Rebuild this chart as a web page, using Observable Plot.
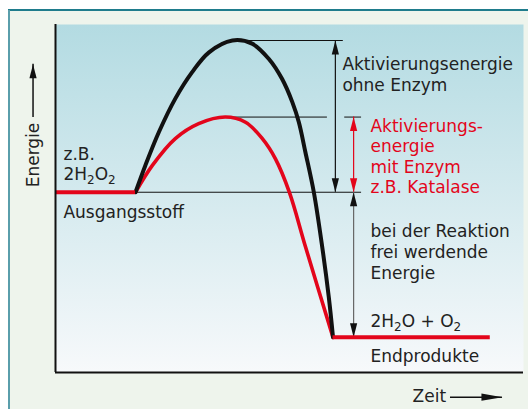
<!DOCTYPE html>
<html>
<head>
<meta charset="utf-8">
<script src="https://cdn.jsdelivr.net/npm/d3@7"></script>
<script src="https://cdn.jsdelivr.net/npm/@observablehq/plot@0.6"></script>
<style>
  html, body { margin: 0; padding: 0; background: #ffffff; }
  #chart { width: 528px; height: 409px; position: relative; }
  #chart svg { display: block; }
</style>
</head>
<body>
<div id="chart"></div>
<script>
// ---- data (time 0..100, energy 0..100) ----
const blackTime   = [17.1, 19.2, 22.1, 25.6, 29.2, 32.8, 37.8, 42.0, 45.6, 48.4, 50.6, 52.0, 53.4, 55.2, 57.0, 58.4, 59.3];
const blackEnergy = [51.8, 59.5, 69.1, 78.7, 86.3, 92.0, 95.4, 94.5, 90.1, 84.4, 77.7, 71.9, 63.3, 51.8, 36.0, 21.6, 10.1];
const redTime     = [17.1, 20.7, 25.6, 30.6, 36.3, 40.6, 44.2, 47.0, 50.0, 53.4, 59.3];
const redEnergy   = [51.8, 59.5, 67.2, 71.5, 73.4, 71.9, 67.2, 61.4, 51.7, 36.2, 10.1];

const energyStart = 51.8;
const energyPeakNoEnzyme = 95.4;
const energyPeakEnzyme = 73.4;
const energyEnd = 10.1;
const timeReactionStart = 17.1;
const timeReactionEnd = 59.3;
const timeLast = 92.9;

// guide lines
const guideEnergy = [energyPeakNoEnzyme, energyPeakEnzyme, energyPeakEnzyme, energyStart];
const guideFrom   = [37.8, 36.8, 61.8, 17.1];
const guideTo     = [61.5, 58.1, 65.4, 65.4];

// dimension arrows
const arrowTime   = [59.8, 63.7, 63.7];
const arrowTop    = [energyPeakNoEnzyme, energyPeakEnzyme, energyStart];
const arrowBottom = [energyStart, energyStart, energyEnd];
const arrowLine   = ["#111111", "#e3051b", "#666666"];
const arrowHead   = ["#111111", "#e3051b", "#111111"];

// labels
const labelText = [
  "Aktivierungsenergie\nohne Enzym",
  "Aktivierungs-\nenergie\nmit Enzym\nz.B. Katalase",
  "bei der Reaktion\nfrei werdende\nEnergie",
  "2H₂O + O₂",
  "Endprodukte",
  "z.B.\n2H₂O₂",
  "Ausgangsstoff",
  "Zeit"
];
const labelTime   = [61.3, 67.3, 67.3, 67.3, 67.3, 1.7, 1.7, 76.3];
const labelEnergy = [80.8, 51.6, 26.9, 13.0, 3.0, 55.2, 44.5, -8.5];
const labelColor  = ["#222", "#e3051b", "#222", "#222", "#222", "#222", "#222", "#222"];
const labelLineHeight = [1.26, 1.2, 1.24, 1.2, 1.2, 1.2, 1.2, 1.2];

const axisLabelEnergy = "Energie";

// ---- build tables ----
const RED = "#e3051b";
const blackPts = blackTime.map((t, i) => ({t, e: blackEnergy[i]}));
const redPts = redTime.map((t, i) => ({t, e: redEnergy[i]}));
const guides = guideEnergy.map((e, i) => ({e, x1: guideFrom[i], x2: guideTo[i]}));
const arrows = arrowTime.map((t, i) => ({t, top: arrowTop[i], bottom: arrowBottom[i], line: arrowLine[i], head: arrowHead[i]}));
const labels = labelText.map((s, i) => ({s, t: labelTime[i], e: labelEnergy[i], c: labelColor[i], lh: labelLineHeight[i]}));

// custom arrowhead symbols (tip at the point)
const headUp = {draw(ctx) { ctx.moveTo(0, 0); ctx.lineTo(3.6, 14); ctx.lineTo(-3.6, 14); ctx.closePath(); }};
const headDown = {draw(ctx) { ctx.moveTo(0, 0); ctx.lineTo(3.6, -14); ctx.lineTo(-3.6, -14); ctx.closePath(); }};
const headRight = {draw(ctx) { ctx.moveTo(0, 0); ctx.lineTo(-21, 3.6); ctx.lineTo(-21, -3.6); ctx.closePath(); }};

const FONT = "DejaVu Sans";

const textMarks = labels.map(d => Plot.text([d], {
  x: "t", y: "e", text: "s", fill: d.c, textAnchor: "start", lineAnchor: "bottom",
  fontSize: 17, fontFamily: FONT, lineHeight: d.lh
}));

// axis-title arrows (outside the frame)
const energyArrow = [{t: -4.8, e0: 73.3, e1: 88.6}];
const timeArrow = [{e: -7.1, t0: 84.4, t1: 95.5}];

const chart = Plot.plot({
  width: 528,
  height: 409,
  marginLeft: 55,
  marginRight: 5,
  marginTop: 24,
  marginBottom: 37,
  x: {domain: [0, 100], axis: null},
  y: {domain: [0, 100], axis: null},
  style: {background: "transparent", overflow: "visible", fontFamily: FONT},
  marks: [
    Plot.frame({fill: "url(#plotBg)", stroke: "none"}),
    // guide lines
    Plot.ruleY(guides, {y: "e", x1: "x1", x2: "x2", stroke: "#111", strokeWidth: 1}),
    // dimension arrows
    Plot.ruleX(arrows, {x: "t", y1: "top", y2: "bottom", stroke: "line", strokeWidth: 1.2}),
    Plot.dot(arrows, {x: "t", y: "top", symbol: headUp, fill: "head", stroke: "none"}),
    Plot.dot(arrows, {x: "t", y: "bottom", symbol: headDown, fill: "head", stroke: "none"}),
    // curves
    Plot.line(redPts, {x: "t", y: "e", stroke: RED, strokeWidth: 3.6, curve: "catmull-rom"}),
    Plot.line(blackPts, {x: "t", y: "e", stroke: "#111", strokeWidth: 4, curve: "catmull-rom"}),
    Plot.ruleY([energyStart], {x1: 0, x2: timeReactionStart, stroke: RED, strokeWidth: 4}),
    Plot.ruleY([energyEnd], {x1: timeReactionEnd, x2: timeLast, stroke: RED, strokeWidth: 4}),
    // axes
    Plot.ruleX([0], {stroke: "#111", strokeWidth: 2}),
    Plot.ruleY([0], {stroke: "#111", strokeWidth: 2}),
    // labels
    ...textMarks,
    Plot.text([axisLabelEnergy], {x: -4.6, y: 62.5, text: d => d, rotate: -90, textAnchor: "middle", lineAnchor: "middle", fontSize: 17, fontFamily: FONT, fill: "#222"}),
    Plot.ruleX(energyArrow, {x: "t", y1: "e0", y2: "e1", stroke: "#111", strokeWidth: 1.5}),
    Plot.dot(energyArrow, {x: "t", y: "e1", symbol: headUp, fill: "#111", stroke: "none"}),
    Plot.ruleY(timeArrow, {y: "e", x1: "t0", x2: "t1", stroke: "#111", strokeWidth: 1.5}),
    Plot.dot(timeArrow, {x: "t1", y: "e", symbol: headRight, fill: "#111", stroke: "none"})
  ]
});

// decoration: panel background, borders, gradient
const svg = d3.select(chart);
const defs = svg.insert("defs", ":first-child");
const g = defs.append("linearGradient").attr("id", "plotBg").attr("x1", 0).attr("y1", 0).attr("x2", 0).attr("y2", 1);
g.append("stop").attr("offset", "0%").attr("stop-color", "#b3dbe2");
g.append("stop").attr("offset", "100%").attr("stop-color", "#f7f9fb");
const deco = svg.insert("g", "defs + *");
deco.append("rect").attr("x", 9).attr("y", 10).attr("width", 519).attr("height", 399).attr("fill", "#eef4ec");
deco.append("line").attr("x1", 8).attr("x2", 528).attr("y1", 10).attr("y2", 10).attr("stroke", "#1f7c8c").attr("stroke-width", 2);
deco.append("line").attr("x1", 9).attr("x2", 9).attr("y1", 10).attr("y2", 409).attr("stroke", "#5a9eab").attr("stroke-width", 2);

// chemical subscripts: render "₂" as a lowered, smaller "2"
svg.selectAll("text, tspan").each(function () {
  if (this.querySelector && this.querySelector("tspan")) return;
  const s = this.textContent;
  if (!s.includes("₂")) return;
  this.textContent = "";
  for (const part of s.split(/(₂)/)) {
    if (!part) continue;
    const ts = d3.select(this).append("tspan");
    if (part === "₂") ts.text("2").attr("font-size", 12).attr("baseline-shift", "-4");
    else ts.text(part);
  }
});

document.getElementById("chart").appendChild(chart);
</script>
</body>
</html>
